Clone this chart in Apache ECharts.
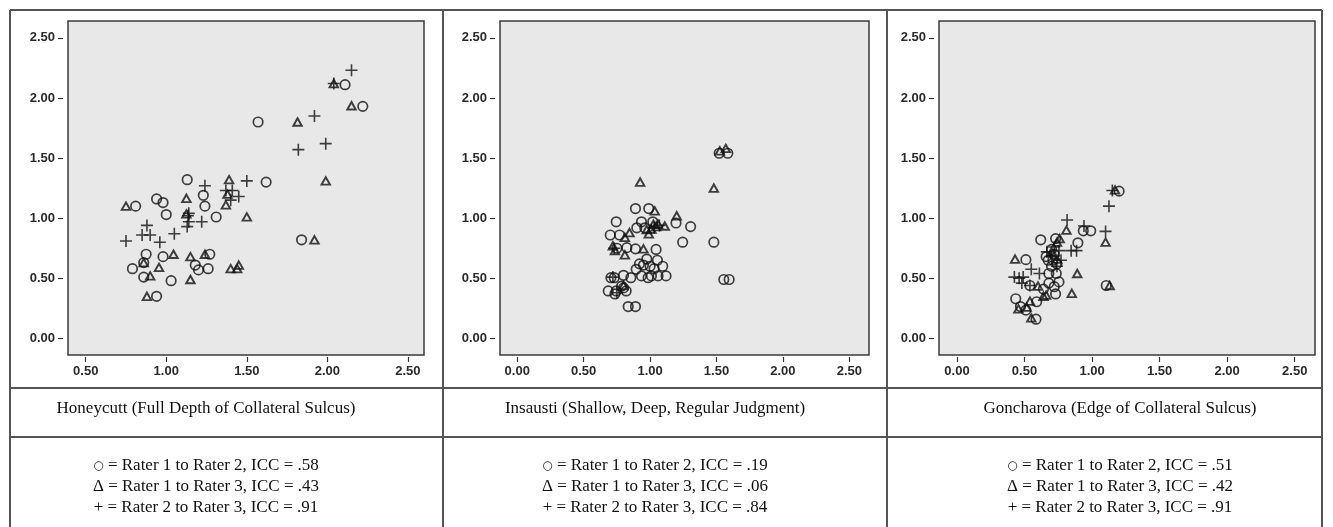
<!DOCTYPE html>
<html>
<head>
<meta charset="utf-8">
<script src="https://cdn.jsdelivr.net/npm/echarts@6/dist/echarts.min.js"></script>
<style>
html,body{margin:0;padding:0;background:#fff;}
#chart{width:1333px;height:527px;}
</style>
</head>
<body>
<div id="chart"></div>
<script>
// ---- Data ----
const tickValues = [0, 0.5, 1, 1.5, 2, 2.5];
const tickValuesX1 = [0.5, 1, 1.5, 2, 2.5];

const panelTitles = [
  'Honeycutt (Full Depth of Collateral Sulcus)',
  'Insausti (Shallow, Deep, Regular Judgment)',
  'Goncharova (Edge of Collateral Sulcus)'
];
const iccR12 = ['.58', '.19', '.51'];
const iccR13 = ['.43', '.06', '.42'];
const iccR23 = ['.91', '.84', '.91'];

// Panel 1: Honeycutt
const p1Circle = [[2.11,2.11],[2.22,1.93],[1.57,1.80],[1.62,1.30],[1.13,1.32],[1.23,1.19],[1.24,1.10],[0.81,1.10],[0.94,1.16],[0.98,1.13],[1.00,1.03],[1.31,1.01],[0.875,0.70],[0.98,0.68],[1.27,0.70],[0.86,0.63],[0.79,0.58],[1.18,0.61],[1.20,0.57],[1.26,0.58],[0.86,0.51],[1.03,0.48],[0.94,0.35],[1.84,0.82]];
const p1Triangle = [[2.04,2.12],[2.15,1.935],[1.815,1.80],[1.99,1.31],[1.39,1.32],[1.38,1.20],[1.37,1.11],[1.125,1.165],[0.75,1.10],[1.125,1.035],[1.50,1.01],[1.045,0.70],[1.15,0.68],[1.24,0.70],[0.955,0.59],[1.40,0.58],[1.44,0.58],[1.45,0.61],[0.90,0.52],[1.15,0.49],[0.88,0.35],[1.92,0.82],[0.86,0.63]];
const p1Plus = [[2.15,2.23],[2.04,2.12],[1.92,1.85],[1.82,1.57],[1.99,1.62],[1.24,1.27],[1.50,1.31],[1.37,1.23],[1.41,1.23],[1.45,1.18],[1.40,1.15],[1.14,1.04],[1.135,1.02],[1.14,0.97],[1.22,0.97],[1.13,0.93],[0.88,0.94],[0.85,0.86],[0.90,0.86],[0.75,0.81],[0.96,0.80],[1.05,0.87]];

// Panel 2: Insausti
const p2Circle = [[1.52,1.54],[1.585,1.54],[0.89,1.08],[0.99,1.08],[1.195,0.96],[1.305,0.93],[0.745,0.97],[0.935,0.97],[1.02,0.97],[0.90,0.92],[0.96,0.92],[1.245,0.80],[1.48,0.80],[0.70,0.86],[0.77,0.86],[0.75,0.75],[0.825,0.755],[0.89,0.745],[1.045,0.74],[0.975,0.66],[0.95,0.61],[1.055,0.65],[1.095,0.60],[1.03,0.58],[0.895,0.575],[1.00,0.60],[0.92,0.62],[0.705,0.505],[0.73,0.505],[0.80,0.525],[0.855,0.505],[0.935,0.52],[0.985,0.505],[1.06,0.52],[1.12,0.52],[1.01,0.52],[0.785,0.435],[0.685,0.395],[0.745,0.395],[0.735,0.37],[0.82,0.395],[0.80,0.42],[0.835,0.265],[0.89,0.265],[1.555,0.49],[1.595,0.49]];
const p2Triangle = [[0.925,1.30],[1.48,1.25],[1.525,1.56],[1.57,1.58],[1.035,1.06],[1.20,1.02],[0.99,0.87],[1.01,0.91],[1.06,0.95],[1.11,0.935],[1.025,0.95],[0.975,0.905],[0.845,0.88],[0.81,0.84],[0.72,0.77],[0.735,0.73],[0.81,0.695],[0.95,0.745],[0.80,0.44],[1.045,0.93]];
const p2Plus = [[1.03,0.92],[1.07,0.94],[0.73,0.75],[0.72,0.51],[0.75,0.38]];

// Panel 3: Goncharova
const p3Circle = [[1.20,1.225],[0.935,0.895],[0.99,0.895],[0.62,0.82],[0.73,0.83],[0.895,0.795],[0.70,0.74],[0.72,0.70],[0.71,0.65],[0.675,0.65],[0.51,0.655],[0.68,0.54],[0.735,0.54],[0.70,0.60],[0.755,0.47],[0.54,0.44],[0.68,0.46],[0.72,0.43],[0.64,0.41],[0.73,0.37],[1.105,0.44],[0.435,0.33],[0.47,0.265],[0.51,0.235],[0.59,0.305],[0.585,0.16],[0.66,0.68],[0.74,0.62]];
const p3Triangle = [[1.17,1.235],[0.81,0.90],[1.10,0.80],[0.76,0.83],[0.43,0.66],[0.89,0.54],[0.60,0.435],[0.85,0.375],[1.13,0.44],[0.455,0.245],[0.515,0.26],[0.55,0.17],[0.64,0.35],[0.54,0.31],[0.74,0.66],[0.70,0.72],[0.66,0.36],[0.74,0.80]];
const p3Plus = [[1.15,1.23],[1.125,1.10],[0.815,0.985],[0.94,0.935],[1.10,0.89],[0.845,0.73],[0.885,0.73],[0.665,0.72],[0.755,0.73],[0.77,0.65],[0.55,0.575],[0.425,0.51],[0.46,0.50],[0.49,0.51],[0.48,0.46],[0.61,0.54],[0.54,0.44],[0.70,0.68],[0.74,0.60],[0.72,0.76]];

// ---- Layout / style ----
const grids = [
  {left: 68, top: 21, width: 356, height: 334},
  {left: 500, top: 21, width: 369, height: 334},
  {left: 939, top: 21, width: 376, height: 334}
];
const xRanges = [[0.39, 2.6], [-0.13, 2.648], [-0.133, 2.65]];
const yRange = [-0.138, 2.64];
const xTicks = [tickValuesX1, tickValues, tickValues];

const labelFont = {color: '#2a2a2a', fontSize: 13, fontFamily: 'Liberation Sans, Arial, sans-serif', fontWeight: 'bold'};

const markStroke = '#111111';
const circleStyle = {symbol: 'circle', symbolSize: 9.5, itemStyle: {color: 'transparent', borderColor: markStroke, borderWidth: 1.7}};
const triStyle = {symbol: 'triangle', symbolSize: [8.5, 7.5], itemStyle: {color: 'transparent', borderColor: markStroke, borderWidth: 1.9}};
const plusStyle = {symbol: 'path://M0,6H12M6,0V12', symbolSize: 12, itemStyle: {color: 'transparent', borderColor: markStroke, borderWidth: 1.6}};

const panelData = [
  [p1Circle, p1Triangle, p1Plus],
  [p2Circle, p2Triangle, p2Plus],
  [p3Circle, p3Triangle, p3Plus]
];

const xAxes = [], yAxes = [], series = [];
grids.forEach((g, i) => {
  xAxes.push({
    type: 'value', gridIndex: i, min: xRanges[i][0], max: xRanges[i][1], offset: 2,
    splitLine: {show: false}, axisLine: {show: false, onZero: false},
    axisTick: {show: true, length: 5, customValues: xTicks[i], lineStyle: {color: '#333', width: 1.2}},
    axisLabel: Object.assign({customValues: xTicks[i], margin: 8, formatter: v => v.toFixed(2)}, labelFont)
  });
  yAxes.push({
    type: 'value', gridIndex: i, min: yRange[0], max: yRange[1], offset: 5,
    splitLine: {show: false}, axisLine: {show: false, onZero: false},
    axisTick: {show: true, length: 5, customValues: tickValues, lineStyle: {color: '#333', width: 1.2}},
    axisLabel: Object.assign({customValues: tickValues, margin: 8, formatter: v => v.toFixed(2)}, labelFont)
  });
  const styles = [circleStyle, triStyle, plusStyle];
  panelData[i].forEach((d, k) => {
    series.push(Object.assign({
      type: 'scatter', xAxisIndex: i, yAxisIndex: i, data: d, animation: false, silent: true
    }, styles[k]));
  });
});

const serif = '"Liberation Serif", "Times New Roman", serif';
const colCenters = [206, 655, 1120];
const graphics = [];
// table lines
const lineStyle = {stroke: '#555555', lineWidth: 2};
[[10,10,1322,10],[10,388,1322,388],[10,437,1322,437],[10,10,10,527],[443,10,443,527],[887,10,887,527],[1322,10,1322,527]].forEach(l => {
  graphics.push({type: 'line', shape: {x1: l[0], y1: l[1], x2: l[2], y2: l[3]}, style: lineStyle, silent: true});
});
colCenters.forEach((cx, i) => {
  graphics.push({type: 'text', x: cx, y: 409, style: {text: panelTitles[i], fontFamily: serif, fontSize: 17, fill: '#111', textAlign: 'center', textVerticalAlign: 'middle'}});
  const rich = {s: {fontSize: 12, fontFamily: 'DejaVu Sans', fill: '#111'}};
  const lines = [
    '{s|○} = Rater 1 to Rater 2, ICC = ' + iccR12[i],
    'Δ = Rater 1 to Rater 3, ICC = ' + iccR13[i],
    '+ = Rater 2 to Rater 3, ICC = ' + iccR23[i]
  ];
  lines.forEach((t, k) => {
    graphics.push({type: 'text', x: cx, y: 466 + k * 21, style: {text: t, rich: rich, fontFamily: serif, fontSize: 17, fill: '#111', textAlign: 'center', textVerticalAlign: 'middle'}});
  });
});

const chart = echarts.init(document.getElementById('chart'), null, {renderer: 'canvas'});
chart.setOption({
  animation: false,
  backgroundColor: '#ffffff',
  grid: grids.map(g => Object.assign({show: true, backgroundColor: '#e8e8e8', borderColor: '#3a3a3a', borderWidth: 1.5}, g)),
  xAxis: xAxes,
  yAxis: yAxes,
  series: series,
  graphic: graphics
});
</script>
</body>
</html>
